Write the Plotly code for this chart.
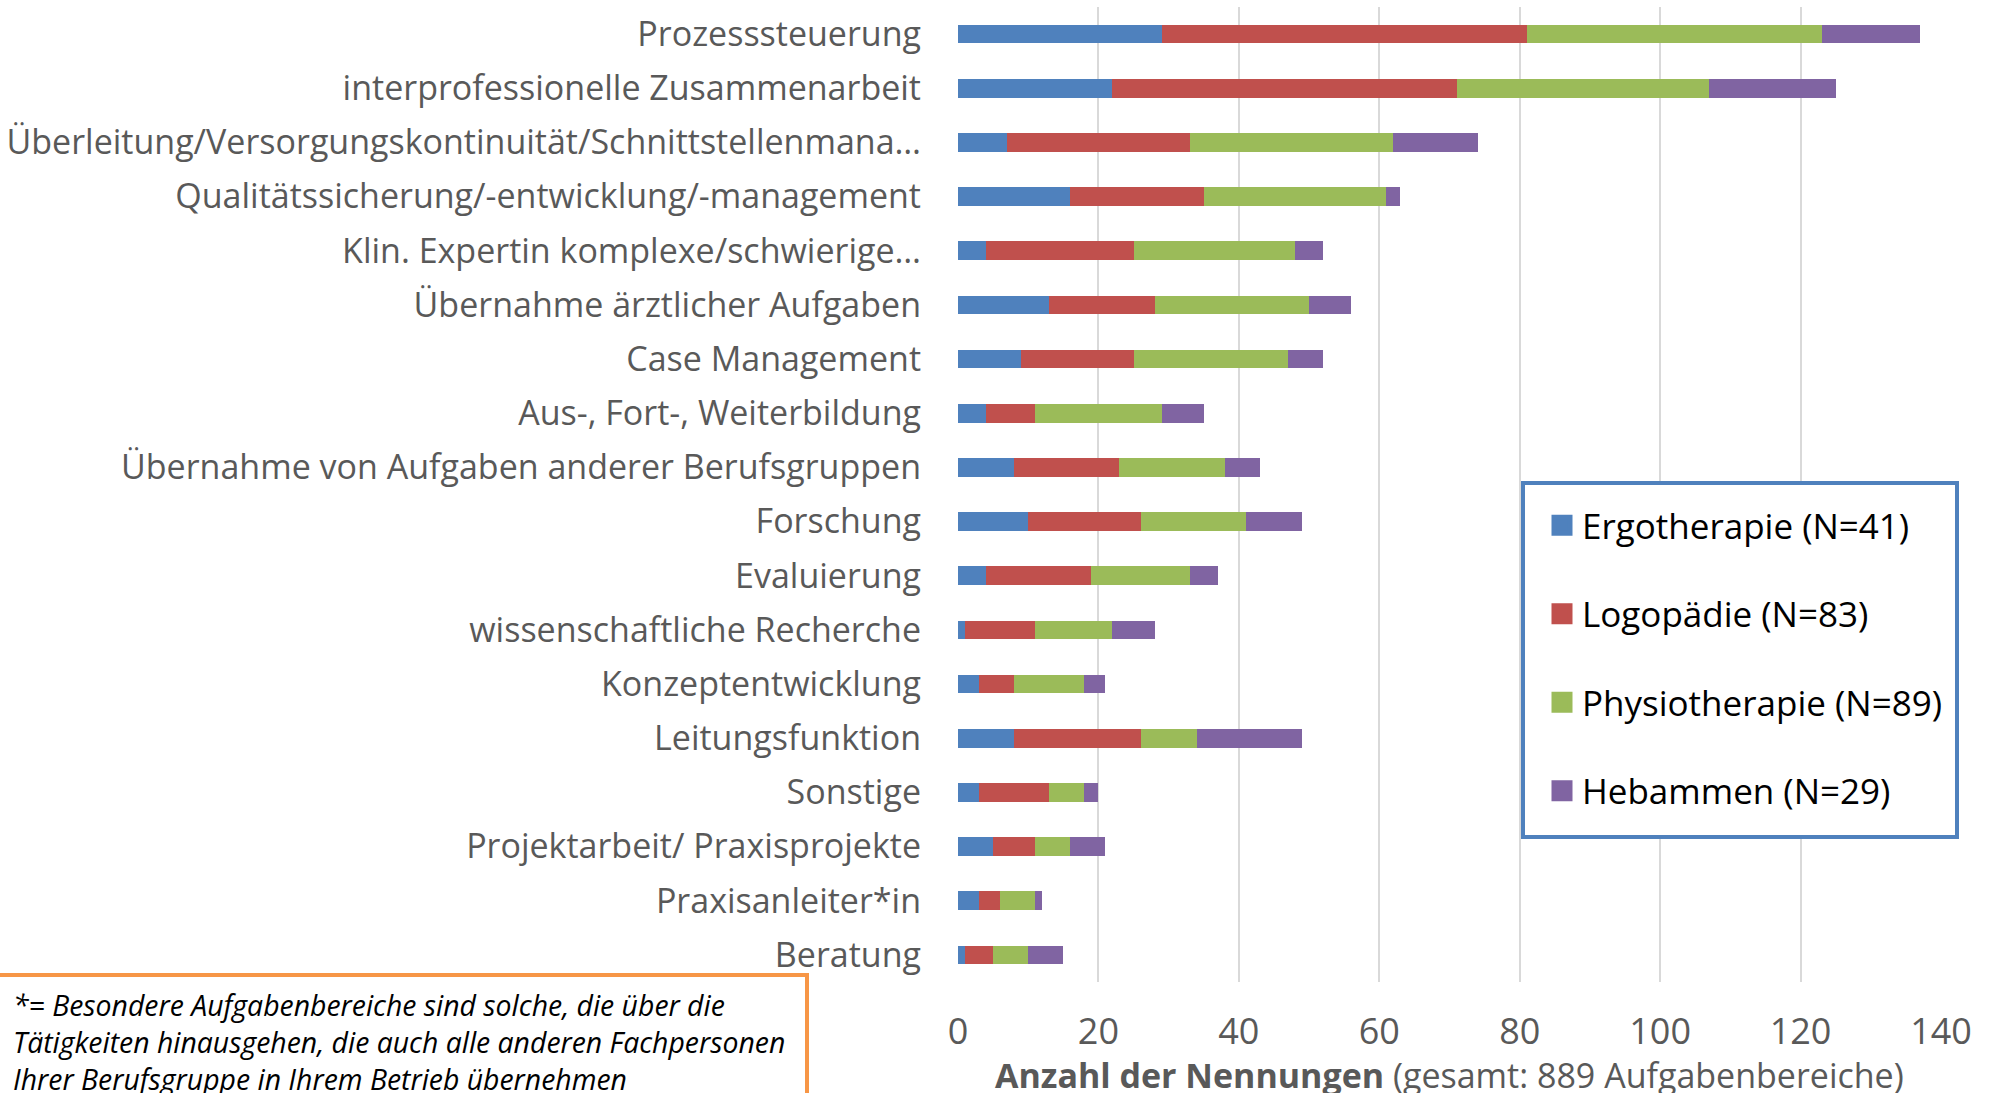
import plotly.graph_objects as go

# ---------------- data ----------------
categories = [
    "Prozesssteuerung",
    "interprofessionelle Zusammenarbeit",
    "Überleitung/Versorgungskontinuität/Schnittstellenmana…",
    "Qualitätssicherung/-entwicklung/-management",
    "Klin. Expertin komplexe/schwierige…",
    "Übernahme ärztlicher Aufgaben",
    "Case Management",
    "Aus-, Fort-, Weiterbildung",
    "Übernahme von Aufgaben anderer Berufsgruppen",
    "Forschung",
    "Evaluierung",
    "wissenschaftliche Recherche",
    "Konzeptentwicklung",
    "Leitungsfunktion",
    "Sonstige",
    "Projektarbeit/ Praxisprojekte",
    "Praxisanleiter*in",
    "Beratung",
]
ergotherapie = [29, 22, 7, 16, 4, 13, 9, 4, 8, 10, 4, 1, 3, 8, 3, 5, 3, 1]
logopaedie = [52, 49, 26, 19, 21, 15, 16, 7, 15, 16, 15, 10, 5, 18, 10, 6, 3, 4]
physiotherapie = [42, 36, 29, 26, 23, 22, 22, 18, 15, 15, 14, 11, 10, 8, 5, 5, 5, 5]
hebammen = [14, 18, 12, 2, 4, 6, 5, 6, 5, 8, 4, 6, 3, 15, 2, 5, 1, 5]

series_names = ["Ergotherapie (N=41)", "Logopädie (N=83)",
                "Physiotherapie (N=89)", "Hebammen (N=29)"]
series_values = [ergotherapie, logopaedie, physiotherapie, hebammen]
series_colors = ["#4F81BD", "#C0504D", "#9BBB59", "#8064A2"]

x_ticks = [0, 20, 40, 60, 80, 100, 120, 140]
axis_title = "<b>Anzahl der Nennungen</b> (gesamt: 889 Aufgabenbereiche)"
footnote = ("*= Besondere Aufgabenbereiche sind solche, die über die<br>"
            "Tätigkeiten hinausgehen, die auch alle anderen Fachpersonen<br>"
            "Ihrer Berufsgruppe in Ihrem Betrieb übernehmen")

# ---------------- layout constants (pixels) ----------------
W, H = 1993, 1093
PL, PR, PT, PB = 958, 52, 7, 111
plot_w = W - PL - PR
plot_h = H - PT - PB


def px_x(px):
    return (px - PL) / plot_w


def px_y(py):
    return (H - PB - py) / plot_h


FONT = "Open Sans"
GREY = "#595959"

fig = go.Figure()
for name, vals, col in zip(series_names, series_values, series_colors):
    fig.add_trace(go.Bar(
        y=categories, x=vals, name=name, orientation="h",
        marker=dict(color=col, line=dict(width=0)),
        showlegend=False,
    ))
    # legend proxy (bigger square symbol)
    fig.add_trace(go.Scatter(
        x=[None], y=[None], mode="markers", name=name, legendgroup=name,
        marker=dict(symbol="square", size=16, color=col,
                    line=dict(color=col, width=5)),
    ))

fig.update_layout(
    width=W, height=H,
    margin=dict(l=PL, r=PR, t=PT, b=PB, autoexpand=False),
    barmode="stack", bargap=0.655,
    plot_bgcolor="white", paper_bgcolor="white",
    font=dict(family=FONT, color=GREY),
    legend=dict(
        x=px_x(1542), y=px_y(496), xanchor="left", yanchor="top",
        bgcolor="rgba(0,0,0,0)", borderwidth=0,
        font=dict(family=FONT, size=35, color="black"),
        tracegroupgap=40, itemwidth=30,
    ),
    xaxis=dict(
        range=[0, 140], tickvals=x_ticks, showgrid=True,
        gridcolor="#D9D9D9", gridwidth=1.5, zeroline=False,
        showline=False, ticks="", tickfont=dict(size=36, color=GREY),
        ticklabelstandoff=25,
        automargin=False,
    ),
    yaxis=dict(
        autorange="reversed", showgrid=False, showline=False, ticks="",
        tickfont=dict(size=34, color=GREY), ticklabelstandoff=36,
        automargin=False,
    ),
    showlegend=True,
)

# x-axis title
fig.add_annotation(xref="paper", yref="paper", x=0.5, y=px_y(1075),
                   xanchor="center", yanchor="middle", showarrow=False,
                   text=axis_title, font=dict(family=FONT, size=34, color=GREY))

# legend frame
fig.add_shape(type="rect", xref="paper", yref="paper",
              x0=px_x(1523), x1=px_x(1957), y0=px_y(837), y1=px_y(483),
              line=dict(color="#4F81BD", width=4), fillcolor="white", layer="above")

# footnote box
fig.add_shape(type="rect", xref="paper", yref="paper",
              x0=px_x(-10), x1=px_x(807), y0=px_y(975), y1=px_y(1110),
              line=dict(color="#F79646", width=4), fillcolor="white", layer="above")
fig.add_annotation(xref="paper", yref="paper", x=px_x(11), y=px_y(984),
                   xanchor="left", yanchor="top", align="left", showarrow=False,
                   text=footnote,
                   font=dict(family=FONT, size=28.4, color="black", style="italic"))

fig.write_html("out.html", config={"displayModeBar": False},
               post_script="document.body.style.margin='0';")
